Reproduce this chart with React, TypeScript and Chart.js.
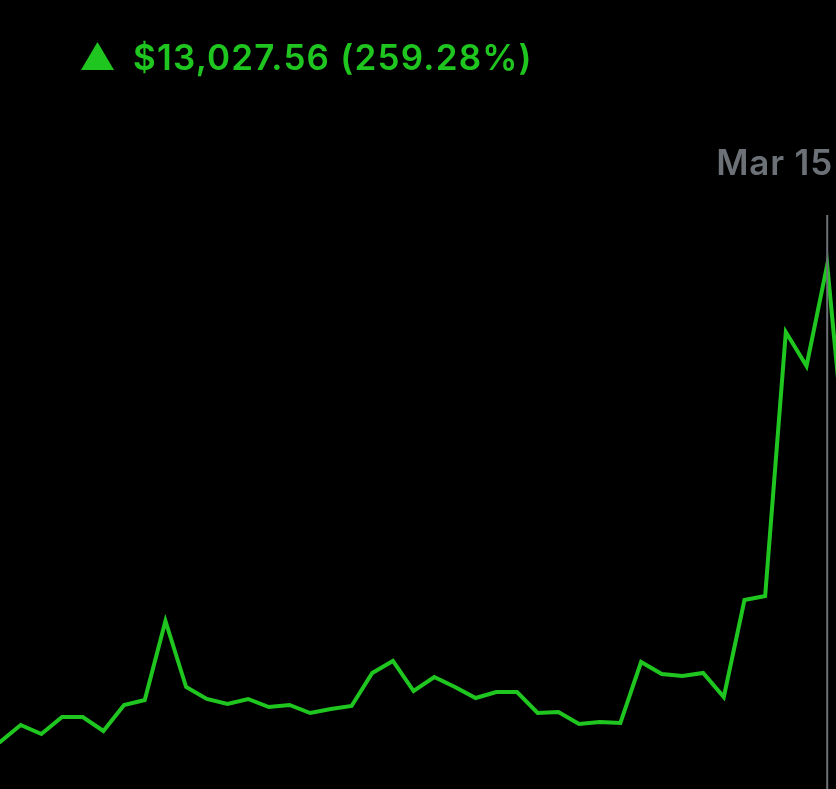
import React, { useEffect, useRef } from "react";
import { Chart, registerables } from "chart.js";

Chart.register(...registerables);

// Portfolio value per trading day (index -1 and 41 extend past the visible edges)
const startIndex = -1;
const values: number[] = [
  4806, 5025, 5489, 5243, 5707, 5707, 5325, 6035, 6172, 8329,
  6527, 6199, 6062, 6199, 5980, 6035, 5816, 5926, 6008, 6909,
  7237, 6417, 6800, 6527, 6226, 6390, 6390, 5816, 5844, 5516,
  5571, 5543, 7209, 6882, 6827, 6909, 6253, 8903, 9012, 16221,
  15293, 18052, 12125,
];
const selectedIndex = 40;
const selectedLabel = "Mar 15";
const changeText = "$13,027.56 (259.28%)";

const GREEN = "rgb(32, 198, 32)";
const GRAY = "#6c7177";

export default function App() {
  const canvasRef = useRef<HTMLCanvasElement | null>(null);

  useEffect(() => {
    document.body.style.background = "#000";
    const canvas = canvasRef.current;
    if (!canvas) return;
    const points = values.map((v, i) => ({ x: startIndex + i, y: v }));

    const cursorPlugin = {
      id: "cursorLine",
      afterDatasetsDraw(chart: any) {
        const ctx = chart.ctx;
        const x = chart.scales.x.getPixelForValue(selectedIndex);
        ctx.save();
        ctx.strokeStyle = GRAY;
        ctx.lineWidth = 2;
        ctx.beginPath();
        ctx.moveTo(x, 215);
        ctx.lineTo(x, chart.height);
        ctx.stroke();
        ctx.restore();
      },
    };

    const chart = new Chart(canvas, {
      type: "line",
      data: {
        datasets: [
          {
            data: points,
            borderColor: GREEN,
            borderWidth: 4,
            pointRadius: 0,
            tension: 0,
            fill: false,
            borderJoinStyle: "miter",
          },
        ],
      },
      options: {
        animation: false,
        responsive: false,
        maintainAspectRatio: false,
        layout: { padding: 0 },
        plugins: {
          legend: { display: false },
          tooltip: { enabled: false },
          title: { display: false },
        },
        scales: {
          x: { type: "linear", display: false, min: 0, max: 836 / 20.68 },
          y: { type: "linear", display: false, min: 3741, max: 25288 },
        },
      },
      plugins: [cursorPlugin],
    });
    return () => chart.destroy();
  }, []);

  return (
    <div
      style={{
        position: "fixed",
        left: 0,
        top: 0,
        width: 836,
        height: 789,
        background: "#000",
        overflow: "hidden",
        fontFamily: "Inter, 'Liberation Sans', sans-serif",
      }}
    >
      <canvas
        ref={canvasRef}
        width={836}
        height={789}
        style={{ position: "absolute", left: 0, top: 0, width: 836, height: 789 }}
      />
      <div
        style={{
          position: "absolute",
          left: 81,
          top: 42,
          width: 33,
          height: 28,
          background: GREEN,
          clipPath: "polygon(50% 0, 100% 100%, 0 100%)",
        }}
      />
      <div
        style={{
          position: "absolute",
          left: 133,
          top: 39.8,
          fontSize: 35,
          lineHeight: "35px",
          fontWeight: 600,
          letterSpacing: 1.2,
          color: GREEN,
          whiteSpace: "nowrap",
        }}
      >
        {changeText}
      </div>
      <div
        style={{
          position: "absolute",
          right: 3,
          top: 144.8,
          fontSize: 35,
          lineHeight: "35px",
          fontWeight: 600,
          letterSpacing: 0.8,
          color: GRAY,
          whiteSpace: "nowrap",
        }}
      >
        {selectedLabel}
      </div>
    </div>
  );
}
